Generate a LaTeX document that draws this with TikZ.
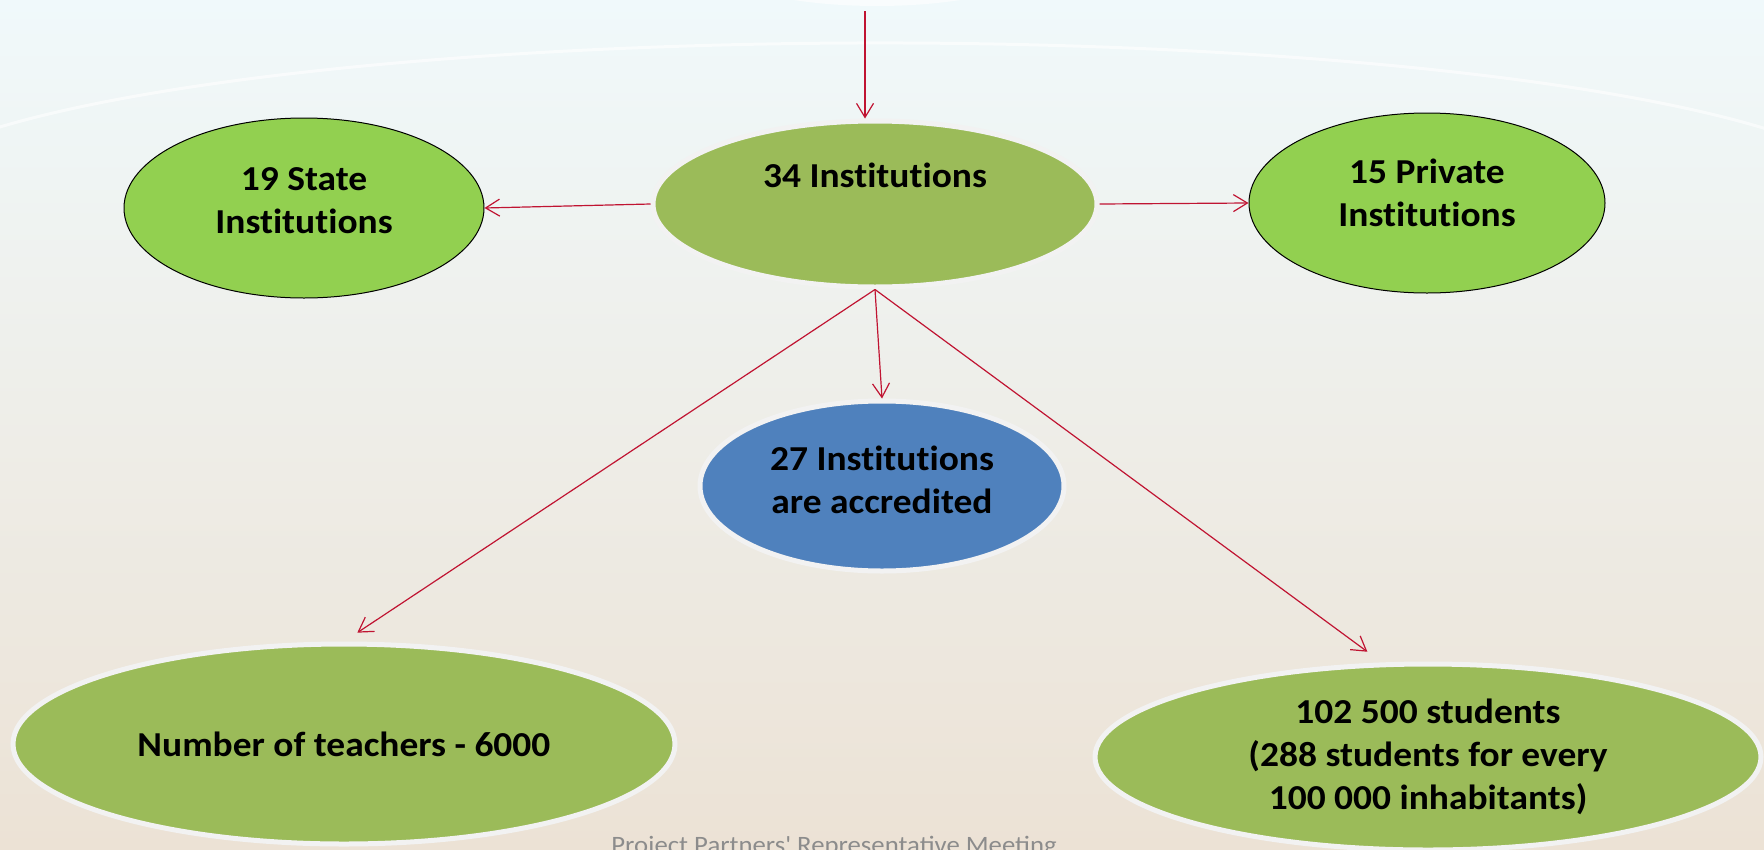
\documentclass[tikz,border=0pt]{standalone}
\usepackage{fontspec}
\setmainfont{Carlito}[FakeStretch=1.07, Ligatures={NoCommon}]
\newfontfamily\footfont{Carlito}[FakeStretch=1.07]
\usetikzlibrary{shapes.geometric,arrows.meta}
\definecolor{leafgreen}{RGB}{155,187,89}
\definecolor{limegreen}{RGB}{146,208,80}
\definecolor{accrblue}{RGB}{79,129,189}
\definecolor{linkred}{RGB}{192,20,50}
\definecolor{rimgrey}{RGB}{242,242,242}
\definecolor{skytop}{RGB}{240,249,251}
\definecolor{midtone}{RGB}{244,245,239}
\definecolor{sandbottom}{RGB}{236,226,213}
\tikzset{
  blob/.style={ellipse, inner sep=0pt, fill=leafgreen, draw=rimgrey, line width=5pt, align=center},
  sideblob/.style={blob, fill=limegreen, draw=black, line width=1pt},
  link/.style={draw=linkred, line width=1.2pt, -{Straight Barb[length=14pt,width=17pt]}},
  every label/.style={align=center}
}
\begin{document}
\begin{tikzpicture}[x=1pt,y=-1pt,font=\bfseries\fontsize{35}{43}\selectfont]
\useasboundingbox (0,0) rectangle (1764,849);
% background
\shade[top color=skytop, middle color=midtone, bottom color=sandbottom] (0,0) rectangle (1764,849);
\fill[white, opacity=0.6] (877,-60) ellipse (200 and 66);
\draw[white, line width=3pt, opacity=0.6] (880,203) ++(200:1000 and 160) arc[start angle=200, end angle=340, x radius=1000, y radius=160];
% nodes
\node[blob, minimum width=444, minimum height=166,
      label={[yshift=29pt]center:34 Institutions}] (inst) at (875,204) {};
\node[sideblob, minimum width=360, minimum height=180,
      label={[yshift=7pt]center:19 State\\Institutions}] (state) at (304,208) {};
\node[sideblob, minimum width=356, minimum height=180,
      label={[yshift=10pt]center:15 Private\\Institutions}] (private) at (1427,203) {};
\node[blob, fill=accrblue, minimum width=364, minimum height=170,
      label={[yshift=6pt]center:27 Institutions\\are accredited}] (accr) at (882,486) {};
\node[blob, minimum width=662, minimum height=200] (teach) at (344,744) {Number of teachers - 6000};
\node[blob, minimum width=666, minimum height=186] (stud) at (1428,757) {102 500 students\\(288 students for every\\100 000 inhabitants)};
\node[anchor=base, font=\footfont\mdseries\fontsize{25}{30}\selectfont, text=black!45] (footer) at (834,853) {Project Partners' Representative Meeting};
% connectors
\coordinate (feed) at (865,11);
\draw[link] (feed) -- (feed |- inst.north);
\draw[link] (inst.west) -- (state.east);
\draw[link] (inst.east) -- (private.west);
\draw[link] (inst.south) -- (accr.north);
\draw[link, shorten >=16pt] (inst.south) -- (teach.north);
\draw[link, shorten >=18pt] (inst.south) -- (stud.116);
\end{tikzpicture}
\end{document}
